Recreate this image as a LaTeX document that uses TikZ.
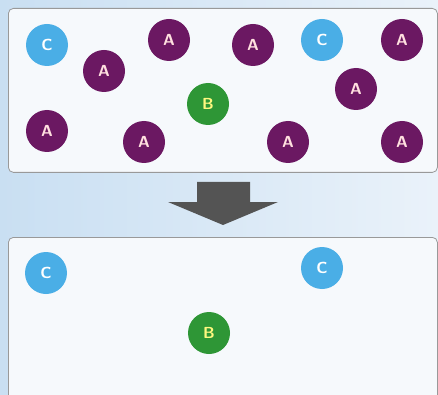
\documentclass[tikz,border=0pt]{standalone}
\usepackage{tikz}
\definecolor{molA}{HTML}{6B1862}
\definecolor{molB}{HTML}{2E9636}
\definecolor{molC}{HTML}{4AAEE6}
\definecolor{panel}{HTML}{F6F9FC}
\definecolor{bgleft}{HTML}{C9DFF2}
\definecolor{bgright}{HTML}{EAF2FA}
\definecolor{arrowgray}{HTML}{545454}

\tikzset{
    mol/.style={circle, minimum size=42pt, inner sep=0pt,
        font=\sffamily\bfseries\fontsize{16}{16}\selectfont},
    atomA/.style={mol, fill=molA, text=pink!50},
    atomB/.style={mol, fill=molB, text=yellow!50},
    atomC/.style={mol, fill=molC, text=white},
    box/.style={draw=gray!80, fill=panel, rounded corners=5pt, line width=0.8pt}
}

\begin{document}
\begin{tikzpicture}[x=1pt, y=-1pt]
    % Background
    \useasboundingbox (0,0) rectangle (438,395);
    \shade[left color=bgleft, right color=bgright] (0,0) rectangle (438,395);

    % Mixture
    \node[box, minimum width=429pt, minimum height=164pt, anchor=north west] (mix) at (8,8) {};
    \node[atomC] (c1) at (47,45) {C};
    \node[atomA] (a1) at (104,71) {A};
    \node[atomA] (a2) at (169,40) {A};
    \node[atomB] (b1) at (208,104) {B};
    \node[atomA] (a3) at (47,131) {A};
    \node[atomA] (a4) at (144,142) {A};
    \node[atomA] (a5) at (253,45) {A};
    \node[atomC] (c2) at (322,40) {C};
    \node[atomA] (a6) at (402,40) {A};
    \node[atomA] (a7) at (356,89) {A};
    \node[atomA] (a8) at (288,142) {A};
    \node[atomA] (a9) at (402,142) {A};

    % Block arrow
    \fill[arrowgray] (197,182) -- (250,182) -- (250,202) -- (278,202)
        -- (223,225) -- (168,202) -- (197,202) -- cycle;

    % After reaction
    \node[box, minimum width=429pt, minimum height=170pt, anchor=north west] (rest) at (8,237) {};
    \node[atomC] (c3) at (46,273) {C};
    \node[atomC] (c4) at (322,268) {C};
    \node[atomB] (b2) at (209,333) {B};
\end{tikzpicture}
\end{document}
